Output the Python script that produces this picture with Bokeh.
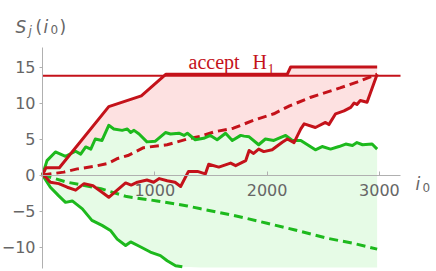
import numpy as np
from bokeh.plotting import figure
from bokeh.models import LinearAxis, FixedTicker, Label, Range1d
from bokeh.embed import file_html
from bokeh.resources import INLINE

# ---------------- data ----------------
red_up_x = [0, 30, 150, 590, 880, 1100, 2180, 2210, 2980]
red_up_y = [0, 1.0, 1.0, 9.5, 11.0, 14.0, 14.0, 15.0, 15.0]

red_lo_x = [0, 30, 70, 145, 220, 295, 370, 450, 530, 590, 740, 790, 845, 930, 990, 1040,
            1110, 1180, 1230, 1300, 1380, 1450, 1480, 1570, 1675, 1720, 1810, 1840, 1880,
            1925, 1970, 2045, 2135, 2180, 2240, 2300, 2330, 2430, 2520, 2550, 2610, 2685,
            2745, 2775, 2800, 2830, 2890, 2980]
red_lo_y = [0, -0.3, -1.0, -1.2, -1.7, -2.1, -1.2, -1.5, -2.4, -3.1, -1.1, -1.4, -1.0, -0.7,
            -1.0, -0.5, -0.8, -1.0, -1.6, 0.5, 0.5, 0.15, 1.5, 1.1, 1.65, 1.3, 2.0, 3.4, 3.0,
            3.6, 3.25, 3.5, 4.55, 5.0, 4.5, 6.4, 7.1, 6.6, 7.3, 7.0, 8.5, 8.9, 9.4, 10.0, 9.8,
            10.35, 10.1, 14.0]

red_mean_x = [0, 190, 310, 460, 580, 670, 760, 900, 1110, 1290, 1410, 1530, 1700, 1880,
              2060, 2200, 2390, 2650, 2800, 2980]
red_mean_y = [0, 0.4, 0.85, 1.2, 1.6, 2.3, 2.7, 3.8, 4.2, 5.0, 5.4, 6.0, 6.5, 7.6, 8.5, 9.6,
              10.8, 12.1, 12.9, 14.0]

green_up_x = [0, 40, 115, 205, 295, 340, 385, 430, 470, 530, 590, 635, 710, 755, 785, 815,
              860, 930, 1005, 1095, 1140, 1215, 1260, 1290, 1360, 1435, 1495, 1555, 1630,
              1690, 1765, 1795, 1840, 1925, 1985, 2060, 2165, 2225, 2300, 2430, 2490, 2565,
              2640, 2700, 2760, 2800, 2850, 2935, 2980]
green_up_y = [0, 2.0, 3.2, 2.6, 3.3, 2.9, 3.9, 3.6, 5.0, 4.8, 6.9, 6.4, 6.2, 6.4, 5.9, 6.2,
              5.7, 4.6, 4.7, 5.9, 5.7, 5.8, 5.5, 5.8, 4.9, 5.1, 5.5, 4.9, 5.8, 4.8, 5.5, 5.4,
              5.3, 4.2, 5.0, 4.8, 5.5, 4.8, 4.8, 3.5, 3.95, 3.6, 3.95, 4.3, 4.1, 4.5, 4.2, 4.3,
              3.6]

green_lo_x = [0, 70, 145, 205, 265, 355, 440, 530, 605, 665, 740, 785, 875, 960, 1050, 1110,
              1185, 1245, 1400, 2000, 2980]
green_lo_y = [0, -1.7, -2.9, -3.8, -3.6, -4.7, -6.3, -7.0, -7.7, -8.9, -9.8, -9.3, -10.0,
              -10.7, -11.2, -11.9, -12.6, -12.75, -14.0, -16.5, -19.0]

green_mean_x = [0, 220, 520, 750, 1020, 1290, 1410, 1700, 2000, 2240, 2540, 2770, 2980]
green_mean_y = [0, -1.0, -1.9, -3.0, -3.6, -4.3, -4.7, -5.6, -6.7, -7.6, -8.8, -9.5, -10.3]

threshold = [13.8]
x_ticks = [1000, 2000, 3000]
y_ticks = [-10, -5, 0, 5, 10, 15]
y_tick_labels = {-10: "\u221210", -5: "\u22125", 0: "0", 5: "5", 10: "10", 15: "15"}

# plot range of the drawing area (data units)
PLOT_X_MAX = 3188
PLOT_Y_MIN, PLOT_Y_MAX = -12.85, 17.7

# ---------------- style ----------------
RED = "#C4121A"
GREEN = "#1DB91D"
PINK_FILL = "#FDE1E1"
GREEN_FILL = "#E6FBE6"
AXIS_GRAY = "#B0B0B0"
LABEL_GRAY = "#666666"
FONT = "DejaVu Sans"

W, H = 436, 271
X0_PX, Y0_PX = 42.0, 174.5         # pixel position of the origin
SX, SY = 0.1123, 7.2               # px per data unit
x_start = -X0_PX / SX
x_end = (W - X0_PX) / SX
y_end = Y0_PX / SY
y_start = -(H - Y0_PX) / SY

p = figure(width=W, height=H, output_backend="svg", toolbar_location=None,
           x_axis_location=None, y_axis_location=None,
           x_range=Range1d(x_start, x_end), y_range=Range1d(y_start, y_end),
           min_border_left=0, min_border_right=0, min_border_top=0, min_border_bottom=0)
p.outline_line_color = None
p.grid.visible = False
p.background_fill_color = "white"
p.border_fill_color = "white"

# fills (clipped to the plot range at the bottom)
g_lo_fill = list(np.maximum(np.array(green_lo_y), PLOT_Y_MIN))
p.patch(red_up_x + red_lo_x[::-1], red_up_y + red_lo_y[::-1],
        fill_color=PINK_FILL, line_color=None)
p.patch(green_up_x + green_lo_x[::-1], green_up_y + g_lo_fill[::-1],
        fill_color=GREEN_FILL, line_color=None)

# axes
xaxis = LinearAxis(fixed_location=0, ticker=FixedTicker(ticks=x_ticks), bounds=(0, PLOT_X_MAX))
xaxis.axis_line_color = AXIS_GRAY
xaxis.major_tick_line_color = AXIS_GRAY
xaxis.major_tick_in = 4
xaxis.major_tick_out = 0
xaxis.minor_tick_line_color = None
xaxis.major_label_text_font = FONT
xaxis.major_label_text_font_size = "16px"
xaxis.major_label_text_color = LABEL_GRAY
xaxis.major_label_standoff = 9
p.add_layout(xaxis, "below")

yaxis = LinearAxis(fixed_location=0, ticker=FixedTicker(ticks=y_ticks),
                   bounds=(PLOT_Y_MIN - 0.2, PLOT_Y_MAX))
yaxis.axis_line_color = AXIS_GRAY
yaxis.major_tick_line_color = AXIS_GRAY
yaxis.major_tick_in = 0
yaxis.major_tick_out = 3
yaxis.minor_tick_line_color = None
yaxis.major_label_text_font = FONT
yaxis.major_label_text_font_size = "16px"
yaxis.major_label_text_color = LABEL_GRAY
yaxis.major_label_standoff = 4
yaxis.major_label_overrides = y_tick_labels
p.add_layout(yaxis, "left")

# threshold line
p.segment(x0=[0], x1=[PLOT_X_MAX], y0=threshold, y1=threshold, line_color=RED, line_width=2)

# curves
g_lo_line = [y if y >= PLOT_Y_MIN else np.nan for y in green_lo_y]
p.line(green_mean_x, green_mean_y, line_color=GREEN, line_width=3, line_dash="9 5")
p.line(red_mean_x, red_mean_y, line_color=RED, line_width=3, line_dash="9 5")
p.line(green_lo_x, g_lo_line, line_color=GREEN, line_width=3, line_join="round")
p.line(green_up_x, green_up_y, line_color=GREEN, line_width=3, line_join="round")
p.line(red_lo_x, red_lo_y, line_color=RED, line_width=3, line_join="round")
p.line(red_up_x, red_up_y, line_color=RED, line_width=3, line_join="round")

# text (screen units: x from left, y from bottom)
def lab(text, x, y, size, color, font=FONT, style="normal"):
    p.add_layout(Label(x=x, y=y, x_units="screen", y_units="screen", text=text,
                       text_font=font, text_font_size=size, text_color=color,
                       text_font_style=style, text_baseline="alphabetic", text_align="left"))

lab("accept", 188, 210, "20px", RED, font="Liberation Serif")
lab("H", 252, 210, "20px", RED, font="Liberation Serif")
lab("1", 267, 203, "14px", RED, font="Liberation Serif")

lab("S", 15, 245, "17px", LABEL_GRAY, style="italic")
lab("j", 28, 241, "12px", LABEL_GRAY, style="italic")
lab("(", 35, 245, "17px", LABEL_GRAY)
lab("i", 43, 245, "17px", LABEL_GRAY, style="italic")
lab("0", 50, 242, "12px", LABEL_GRAY)
lab(")", 59, 245, "17px", LABEL_GRAY)

lab("i", 415, 88, "17px", LABEL_GRAY, style="italic")
lab("0", 422, 84, "12px", LABEL_GRAY)

open("out.html", "w").write(file_html(p, INLINE))
